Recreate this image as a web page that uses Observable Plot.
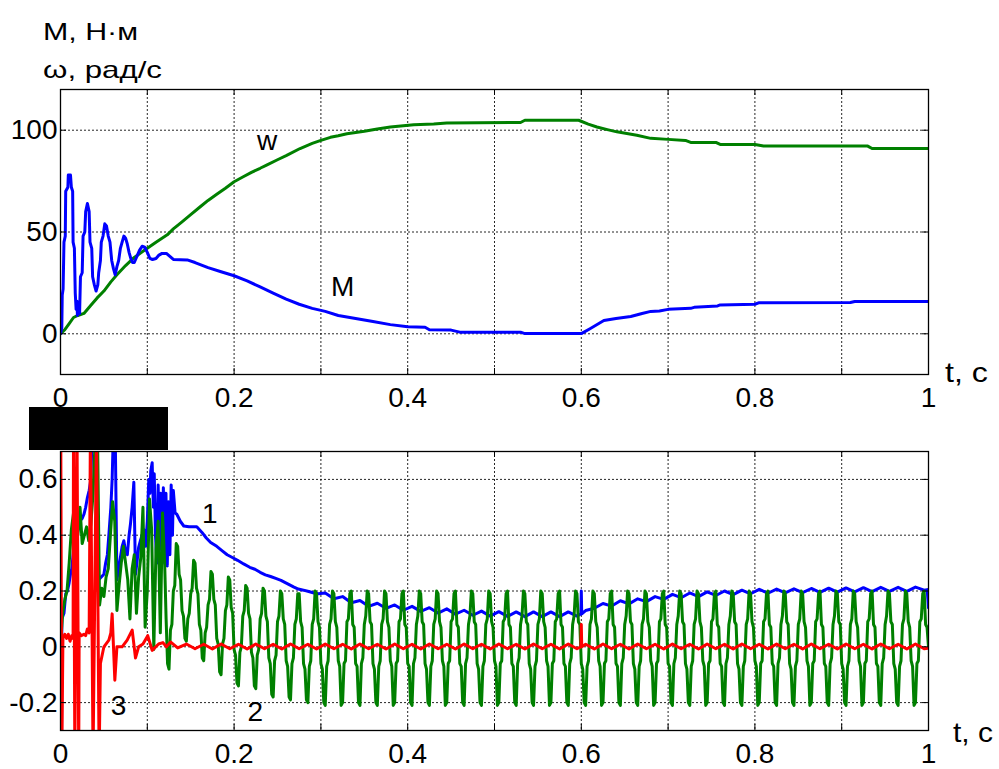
<!DOCTYPE html>
<html>
<head>
<meta charset="utf-8">
<script src="https://cdn.jsdelivr.net/npm/d3@7"></script>
<script src="https://cdn.jsdelivr.net/npm/@observablehq/plot@0.6"></script>
<style>
  body { margin: 0; background: #fff; }
  #wrap { position: relative; width: 999px; height: 769px; overflow: hidden; background: #fff; }
  .panel { position: absolute; left: 0; }
  #overlay { position: absolute; left: 0; top: 0; pointer-events: none; }
</style>
</head>
<body>
<div id="wrap">
  <div id="topPanel" class="panel" style="top:0"></div>
  <div id="botPanel" class="panel" style="top:420px"></div>
  <svg id="overlay" width="999" height="769"></svg>
</div>
<script>
// ---------------- DATA ----------------
// x-axis: grid every 0.1 s, labels every 0.2 s
const xGridTicks = [0, 0.1, 0.2, 0.3, 0.4, 0.5, 0.6, 0.7, 0.8, 0.9, 1];
const xLabelTicks = [0, 0.2, 0.4, 0.6, 0.8, 1];
const topYTicks = [0, 50, 100];
const botYTicks = [-0.2, 0, 0.2, 0.4, 0.6];

// Top panel: torque M (N·m) and speed w (rad/s), [t, value]
const topM = [
  [0,0],[0.0015,3],[0.002,19],[0.003,22],[0.004,45],[0.0055,48],[0.006,70],[0.0085,72],[0.009,78],[0.0115,78],
  [0.0125,72],[0.014,70],[0.0145,45],[0.016,42],[0.017,20],[0.018,12],[0.019,16],[0.0195,9],[0.021,12],[0.022,10],
  [0.023,28],[0.025,30],[0.026,48],[0.028,50],[0.029,60],[0.031,64],[0.033,60],[0.034,45],[0.036,42],[0.037,28],
  [0.039,24],[0.041,21],[0.043,24],[0.044,30],[0.046,36],[0.047,45],[0.049,48],[0.051,54],[0.053,53],[0.055,48],
  [0.057,45],[0.059,36],[0.061,32],[0.063,29],[0.065,33],[0.067,36],[0.069,42],[0.071,45],[0.073,48],[0.075,47],
  [0.077,44],[0.079,40],[0.081,37],[0.083,35],[0.085,35],[0.087,37],[0.089,39],[0.091,41],[0.094,43],[0.097,42.5],
  [0.100,40],[0.103,37],[0.106,36.5],[0.110,37],[0.113,38.5],[0.117,39.5],[0.122,39.5],[0.126,38],[0.130,36.5],[0.146,36.3],
  [0.155,35],[0.170,32.5],[0.185,30.5],[0.200,28.5],[0.215,26],[0.230,23],[0.245,20],[0.260,17],[0.275,14.5],[0.290,12.5],
  [0.305,11],[0.320,9],[0.340,7.5],[0.360,6],[0.380,4.5],[0.400,3.5],[0.420,3.2],[0.425,2],[0.450,1.8],[0.460,0.8],
  [0.530,0.8],[0.535,0.1],[0.600,0.1],[0.610,2.5],[0.626,6.5],[0.640,7.5],[0.657,8.5],[0.670,10],[0.680,11],[0.690,11.2],
  [0.700,12],[0.726,12.5],[0.730,13],[0.757,13.7],[0.760,14.2],[0.800,14.5],[0.805,15.3],[0.910,15.4],[0.915,15.9],[1,15.9]
];
const topW = [
  [0,0],[0.005,2],[0.010,5],[0.015,8],[0.020,9],[0.027,10],[0.035,14],[0.042,17.5],[0.050,21],[0.058,25.5],
  [0.065,29],[0.075,33.5],[0.085,37.5],[0.095,40.5],[0.100,42],[0.110,45],[0.123,48.6],[0.130,51.5],[0.140,55],[0.150,58.5],
  [0.161,62.4],[0.170,65.5],[0.180,68.5],[0.190,71.5],[0.200,74.7],[0.210,77],[0.220,79.3],[0.230,81.3],[0.238,83],[0.250,85.5],
  [0.260,87.5],[0.276,91],[0.290,93.5],[0.300,95],[0.311,96.5],[0.320,97.3],[0.330,98.3],[0.350,99.5],[0.365,100.6],[0.380,101.6],
  [0.395,102.2],[0.407,102.7],[0.430,103],[0.445,103.6],[0.530,103.8],[0.535,104.9],[0.597,104.9],[0.608,103],[0.618,101.6],[0.630,100.3],
  [0.641,99.2],[0.664,97.5],[0.680,96],[0.700,95.5],[0.720,95],[0.726,94],[0.755,94],[0.760,93],[0.800,93],[0.810,92.2],
  [0.930,92.2],[0.935,91],[1,91]
];
const topLabels = [
  { t: 0.238, v: 94.7, s: "w" },
  { t: 0.325, v: 23.2, s: "M" }
];

// Bottom panel, curve 1 (blue), [t, value]
const curve1 = [
  [0,-0.4],[0.0012,-0.4],[0.0015,0.10],[0.004,0.12],[0.006,0.19],[0.008,0.20],[0.010,0.23],[0.0115,0.26],[0.013,0.28],[0.015,0.345],
  [0.018,0.36],[0.020,0.42],[0.022,0.45],[0.025,0.46],[0.027,0.475],[0.029,0.50],[0.031,0.535],[0.033,0.56],[0.035,0.60],[0.0365,0.78],
  [0.040,0.78],[0.042,0.45],[0.044,0.24],[0.047,0.25],[0.050,0.26],[0.052,0.30],[0.054,0.33],[0.0557,0.40],[0.058,0.50],[0.0595,0.60],
  [0.061,0.78],[0.063,0.78],[0.065,0.24],[0.067,0.28],[0.069,0.32],[0.071,0.36],[0.073,0.38],[0.075,0.34],[0.077,0.33],[0.079,0.40],
  [0.0806,0.44],[0.0825,0.50],[0.0845,0.59],[0.0864,0.26],[0.088,0.30],[0.090,0.356],[0.092,0.38],[0.094,0.40],[0.096,0.42],[0.098,0.36],
  [0.100,0.45],[0.1017,0.60],[0.103,0.55],[0.104,0.63],[0.1056,0.66],[0.107,0.50],[0.108,0.62],[0.1094,0.40],[0.111,0.30],[0.1125,0.58],
  [0.114,0.35],[0.1155,0.55],[0.117,0.32],[0.1185,0.57],[0.120,0.30],[0.1215,0.55],[0.123,0.29],[0.1245,0.52],[0.126,0.33],[0.1275,0.58],
  [0.129,0.40],[0.130,0.56],[0.132,0.48],[0.134,0.475],[0.138,0.45],[0.142,0.433],[0.148,0.43],[0.157,0.43],[0.163,0.41],[0.168,0.39],
  [0.173,0.374],[0.180,0.36],[0.186,0.345],[0.192,0.33],[0.198,0.32],[0.204,0.31],[0.211,0.297],[0.218,0.285],[0.224,0.278],[0.230,0.267],
  [0.236,0.258],[0.242,0.252],[0.248,0.245],[0.254,0.238],[0.259,0.23],[0.264,0.222],[0.269,0.214],[0.274,0.207],[0.280,0.203],[0.286,0.198],
  [0.292,0.193],[0.297,0.19],[0.305,0.193],[0.315,0.172],[0.325,0.180],[0.335,0.158],[0.345,0.166],[0.355,0.145],[0.365,0.156],[0.375,0.138],
  [0.385,0.150],[0.395,0.131],[0.405,0.145],[0.415,0.127],[0.425,0.140],[0.435,0.121],[0.445,0.136],[0.455,0.117],[0.465,0.131],[0.475,0.113],
  [0.485,0.128],[0.495,0.110],[0.505,0.126],[0.515,0.109],[0.525,0.125],[0.535,0.108],[0.545,0.125],[0.555,0.108],[0.565,0.125],[0.575,0.108],
  [0.585,0.125],[0.595,0.110],[0.5995,0.118],[0.600,0.200],[0.6005,0.118],[0.605,0.130],[0.615,0.138],[0.625,0.155],[0.635,0.146],[0.645,0.165],
  [0.655,0.154],[0.665,0.172],[0.675,0.162],[0.685,0.180],[0.695,0.170],[0.705,0.188],[0.715,0.176],[0.725,0.193],[0.735,0.180],[0.745,0.197],
  [0.755,0.184],[0.765,0.200],[0.775,0.187],[0.785,0.203],[0.795,0.190],[0.805,0.206],[0.815,0.192],[0.825,0.207],[0.835,0.193],[0.845,0.208],
  [0.855,0.194],[0.865,0.209],[0.875,0.195],[0.885,0.210],[0.895,0.196],[0.905,0.211],[0.915,0.197],[0.925,0.212],[0.935,0.198],[0.945,0.213],
  [0.955,0.199],[0.965,0.213],[0.975,0.199],[0.985,0.214],[0.995,0.203],[0.9985,0.205],[1,0.14]
];

// Bottom panel, curve 2 (green): start-up part as [t, value] ...
const curve2Early = [
  [0,0.00],[0.0025,0.12],[0.005,0.17],[0.0075,0.20],[0.010,0.30],[0.0125,0.42],[0.015,0.48],[0.0175,0.50],
  [0.020,0.40],[0.0225,0.50],[0.025,0.37],[0.0275,0.40],[0.030,0.43],[0.0325,0.38],[0.035,0.44],[0.0375,0.55],
  [0.040,0.75],[0.0425,0.80],[0.045,0.15],[0.0475,0.21],[0.050,0.18],[0.0525,0.25],[0.055,0.28],[0.0575,0.40],
  [0.060,0.52],[0.0625,0.45],[0.065,0.13],[0.0675,0.22],[0.070,0.30],[0.0725,0.36],[0.075,0.30],[0.0775,0.24],
  [0.080,0.10],[0.0825,0.28],[0.085,0.33],[0.0875,0.12],[0.090,0.25],[0.0925,0.32],[0.095,0.50],[0.0975,0.07],
  [0.100,0.20],[0.1025,0.53],[0.105,0.42],[0.1075,-0.01],[0.110,0.35],[0.1125,0.45],[0.115,0.05],[0.1175,0.48]
];
// ... then one sample every 1/600 s from t = 0.12 (twelve per 50 Hz cycle)
const curve2Start = 0.12;
const curve2Step = 1 / 600;
const curve2 = [
  0.30,0.10,-0.06,-0.08,0.06,0.08,0.20,0.22,0.37,0.36,0.26,0.24,
  0.13,0.11,0.03,0.02,0.10,0.12,0.19,0.21,0.31,0.30,0.21,0.19,
  0.08,0.06,-0.04,-0.05,0.05,0.07,0.15,0.17,0.27,0.26,0.17,0.15,
  0.03,0.01,-0.09,-0.10,0.01,0.03,0.13,0.15,0.25,0.24,0.14,0.12,
  -0.01,-0.03,-0.13,-0.14,-0.02,0.00,0.11,0.13,0.22,0.21,0.12,0.10,
  -0.02,-0.04,-0.14,-0.15,-0.03,-0.01,0.10,0.12,0.21,0.20,0.11,0.09,
  -0.04,-0.06,-0.17,-0.18,-0.05,-0.03,0.09,0.11,0.20,0.19,0.10,0.08,
  -0.05,-0.07,-0.18,-0.19,-0.06,-0.04,0.08,0.10,0.19,0.19,0.09,0.07,
  -0.06,-0.08,-0.19,-0.20,-0.07,-0.05,0.08,0.10,0.20,0.19,0.09,0.07,
  -0.06,-0.08,-0.20,-0.21,-0.07,-0.05,0.08,0.10,0.20,0.19,0.09,0.07,
  -0.05,-0.07,-0.21,-0.20,-0.06,-0.05,0.09,0.10,0.19,0.20,0.08,0.07,
  -0.06,-0.07,-0.20,-0.21,-0.06,-0.04,0.08,0.11,0.20,0.19,0.09,0.08,
  -0.06,-0.08,-0.20,-0.21,-0.07,-0.05,0.08,0.10,0.20,0.19,0.09,0.07,
  -0.05,-0.07,-0.21,-0.20,-0.06,-0.05,0.09,0.10,0.19,0.20,0.08,0.07,
  -0.06,-0.07,-0.20,-0.21,-0.06,-0.04,0.08,0.11,0.20,0.19,0.09,0.08,
  -0.06,-0.08,-0.20,-0.21,-0.07,-0.05,0.08,0.10,0.20,0.19,0.09,0.07,
  -0.05,-0.07,-0.21,-0.20,-0.06,-0.05,0.09,0.10,0.19,0.20,0.08,0.07,
  -0.06,-0.07,-0.20,-0.21,-0.06,-0.04,0.08,0.11,0.20,0.19,0.09,0.08,
  -0.06,-0.08,-0.20,-0.21,-0.07,-0.05,0.08,0.10,0.20,0.19,0.09,0.07,
  -0.05,-0.07,-0.21,-0.20,-0.06,-0.05,0.09,0.10,0.19,0.20,0.08,0.07,
  -0.06,-0.07,-0.20,-0.21,-0.06,-0.04,0.08,0.11,0.20,0.19,0.09,0.08,
  -0.06,-0.08,-0.20,-0.21,-0.07,-0.05,0.08,0.10,0.20,0.19,0.09,0.07,
  -0.05,-0.07,-0.21,-0.20,-0.06,-0.05,0.09,0.10,0.19,0.20,0.08,0.07,
  -0.06,-0.07,-0.20,-0.21,-0.06,-0.04,0.08,0.11,0.20,0.19,0.09,0.08,
  -0.06,-0.08,-0.20,-0.21,-0.07,-0.05,0.08,0.10,0.20,0.19,0.09,0.07,
  -0.05,-0.07,-0.21,-0.20,-0.06,-0.05,0.09,0.10,0.19,0.20,0.08,0.07,
  -0.06,-0.07,-0.20,-0.21,-0.06,-0.04,0.08,0.11,0.20,0.19,0.09,0.08,
  -0.06,-0.08,-0.20,-0.21,-0.07,-0.05,0.08,0.10,0.20,0.19,0.09,0.07,
  -0.05,-0.07,-0.21,-0.20,-0.06,-0.05,0.09,0.10,0.19,0.20,0.08,0.07,
  -0.06,-0.07,-0.20,-0.21,-0.06,-0.04,0.08,0.11,0.20,0.19,0.09,0.08,
  -0.06,-0.08,-0.20,-0.21,-0.07,-0.05,0.08,0.10,0.20,0.19,0.09,0.07,
  -0.05,-0.07,-0.21,-0.20,-0.06,-0.05,0.09,0.10,0.19,0.20,0.08,0.07,
  -0.06,-0.07,-0.20,-0.21,-0.06,-0.04,0.08,0.11,0.20,0.19,0.09,0.08,
  -0.06,-0.08,-0.20,-0.21,-0.07,-0.05,0.08,0.10,0.20,0.19,0.09,0.07,
  -0.05,-0.07,-0.21,-0.20,-0.06,-0.05,0.09,0.10,0.19,0.20,0.08,0.07,
  -0.06,-0.07,-0.20,-0.21,-0.06,-0.04,0.08,0.11,0.20,0.19,0.09,0.08,
  -0.06,-0.08,-0.20,-0.21,-0.07,-0.05,0.08,0.10,0.20,0.19,0.09,0.07,
  -0.05,-0.07,-0.21,-0.20,-0.06,-0.05,0.09,0.10,0.19,0.20,0.08,0.07,
  -0.06,-0.07,-0.20,-0.21,-0.06,-0.04,0.08,0.11,0.20,0.19,0.09,0.08,
  -0.06,-0.08,-0.20,-0.21,-0.07,-0.05,0.08,0.10,0.20,0.19,0.09,0.07,
  -0.05,-0.07,-0.21,-0.20,-0.06,-0.05,0.09,0.10,0.19,0.20,0.08,0.07,
  -0.06,-0.07,-0.20,-0.21,-0.06,-0.04,0.08,0.11,0.20,0.19,0.09,0.08,
  -0.06,-0.08,-0.20,-0.21,-0.07,-0.05,0.08,0.10,0.20,0.19,0.09,0.07,
  -0.05,-0.07,-0.21,-0.20,-0.06,-0.05,0.09,0.10,0.19,0.20,0.08,0.07,
  0.00
];

// Bottom panel, curve 3 (red), [t, value]
const curve3 = [
  [0,-0.4],[0.0003,0.8],[0.0015,-0.4],[0.0028,0.03],[0.005,0.045],[0.007,0.03],[0.009,0.045],[0.011,0.02],[0.013,0.04],[0.0145,0.03],
  [0.0150,0.8],[0.0165,-0.4],[0.0190,0.8],[0.0210,-0.4],[0.0215,0.05],[0.024,0.04],[0.027,0.045],[0.029,0.04],[0.031,0.064],[0.033,0.05],
  [0.0345,0.8],[0.0375,-0.4],[0.0415,0.8],[0.0445,-0.4],[0.0460,-0.06],[0.050,0.0],[0.0557,0.024],[0.058,0.05],[0.0595,0.118],[0.0626,-0.12],
  [0.065,0.0],[0.071,0.0],[0.0768,0.024],[0.0826,0.06],[0.0864,-0.04],[0.090,0.0],[0.095,0.01],[0.1005,0.04],[0.1056,-0.013],[0.113,0.01],
  [0.118,0.015],[0.122,0.0],[0.127,0.017],[0.135,-0.004],[0.145,0.010],[0.155,-0.007],[0.165,0.009],[0.175,-0.008],[0.185,0.010],[0.195,-0.007],
  [0.205,0.009],[0.215,-0.008],[0.225,0.010],[0.235,-0.007],[0.245,0.009],[0.255,-0.008],[0.265,0.010],[0.275,-0.007],[0.285,0.009],[0.295,-0.008],
  [0.305,0.010],[0.315,-0.007],[0.325,0.009],[0.335,-0.008],[0.345,0.010],[0.355,-0.007],[0.365,0.009],[0.375,-0.008],[0.385,0.010],[0.395,-0.007],
  [0.405,0.009],[0.415,-0.008],[0.425,0.010],[0.435,-0.007],[0.445,0.009],[0.455,-0.008],[0.465,0.010],[0.475,-0.007],[0.485,0.009],[0.495,-0.008],
  [0.505,0.010],[0.515,-0.007],[0.525,0.009],[0.535,-0.008],[0.545,0.010],[0.555,-0.007],[0.565,0.009],[0.575,-0.008],[0.585,0.010],[0.595,-0.007],
  [0.5995,0.0],[0.600,0.08],[0.6005,0.0],[0.605,0.009],[0.615,-0.008],[0.625,0.010],[0.635,-0.007],[0.645,0.009],[0.655,-0.008],[0.665,0.010],
  [0.675,-0.007],[0.685,0.009],[0.695,-0.008],[0.705,0.010],[0.715,-0.007],[0.725,0.009],[0.735,-0.008],[0.745,0.010],[0.755,-0.007],[0.765,0.009],
  [0.775,-0.008],[0.785,0.010],[0.795,-0.007],[0.805,0.009],[0.815,-0.008],[0.825,0.010],[0.835,-0.007],[0.845,0.009],[0.855,-0.008],[0.865,0.010],
  [0.875,-0.007],[0.885,0.009],[0.895,-0.008],[0.905,0.010],[0.915,-0.007],[0.925,0.009],[0.935,-0.008],[0.945,0.010],[0.955,-0.007],[0.965,0.009],
  [0.975,-0.008],[0.985,0.010],[0.995,-0.007],[1,-0.005]
];
const botLabels = [
  { t: 0.172, v: 0.477, s: "1" },
  { t: 0.2245, v: -0.234, s: "2" },
  { t: 0.0668, v: -0.212, s: "3" }
];

// ---------------- STYLE ----------------
const FONT = '"Liberation Sans", Arial, Helvetica, sans-serif';
const BLUE = "#0000ff", GREEN = "#008000", RED = "#ff0000";
const W = 999, ML = 60, MR = 71;
const plotW = W - ML - MR;
const gridStyle = { stroke: "#000", strokeOpacity: 0.85, strokeWidth: 1, strokeDasharray: "2,2" };
const fmt = d => String(d);

function innerTicks(xTicks, yTicks, plotH) {
  const len = 6;
  return [
    Plot.tickX(xTicks, { x: d => d, insetTop: plotH - len, stroke: "#000" }),
    Plot.tickX(xTicks, { x: d => d, insetBottom: plotH - len, stroke: "#000" }),
    Plot.tickY(yTicks, { y: d => d, insetRight: plotW - len, stroke: "#000" }),
    Plot.tickY(yTicks, { y: d => d, insetLeft: plotW - len, stroke: "#000" })
  ];
}

// full green series: start-up pairs followed by the uniformly sampled part
const greenSeries = curve2Early.concat(curve2.map((v, i) => [curve2Start + i * curve2Step, v]));

// ---------------- TOP PANEL ----------------
const topH = 420, topMT = 89, topMB = 46;
const topPlot = Plot.plot({
  width: W, height: topH,
  marginLeft: ML, marginRight: MR, marginTop: topMT, marginBottom: topMB,
  style: { fontFamily: FONT, fontSize: "28px", color: "#000", background: "#fff", overflow: "visible" },
  x: { domain: [0, 1] },
  y: { domain: [-20, 120] },
  marks: [
    Plot.gridX(xGridTicks, gridStyle),
    Plot.gridY(topYTicks, gridStyle),
    Plot.line(topW, { x: d => d[0], y: d => d[1], stroke: GREEN, strokeWidth: 3, clip: true }),
    Plot.line(topM, { x: d => d[0], y: d => d[1], stroke: BLUE, strokeWidth: 3, clip: true }),
    ...innerTicks(xGridTicks, topYTicks, topH - topMT - topMB),
    Plot.frame({ stroke: "#000", strokeWidth: 1.3 }),
    Plot.axisX(xLabelTicks, { tickSize: 0, tickPadding: 13, tickFormat: fmt, fontSize: 28, label: null }),
    Plot.axisY(topYTicks, { tickSize: 0, tickPadding: 3, tickFormat: fmt, fontSize: 28, label: null }),
    Plot.text(topLabels, { x: "t", y: "v", text: "s", fontSize: 28, fill: "#000" })
  ]
});
document.getElementById("topPanel").appendChild(topPlot);

// ---------------- BOTTOM PANEL ----------------
const botH = 349, botMT = 31, botMB = 39;
const botPlot = Plot.plot({
  width: W, height: botH,
  marginLeft: ML, marginRight: MR, marginTop: botMT, marginBottom: botMB,
  style: { fontFamily: FONT, fontSize: "28px", color: "#000", background: "#fff", overflow: "visible" },
  x: { domain: [0, 1] },
  y: { domain: [-0.3, 0.7] },
  marks: [
    Plot.gridX(xGridTicks, gridStyle),
    Plot.gridY(botYTicks, gridStyle),
    Plot.line(curve1, { x: d => d[0], y: d => d[1], stroke: BLUE, strokeWidth: 3, clip: true }),
    Plot.line(greenSeries, { x: d => d[0], y: d => d[1], stroke: GREEN, strokeWidth: 3, strokeLinejoin: "round", clip: true }),
    Plot.line(curve3, { x: d => d[0], y: d => d[1], stroke: RED, strokeWidth: 3, clip: true }),
    ...innerTicks(xGridTicks, botYTicks, botH - botMT - botMB),
    Plot.frame({ stroke: "#000", strokeWidth: 1.3 }),
    Plot.axisX(xLabelTicks, { tickSize: 0, tickPadding: 13, tickFormat: fmt, fontSize: 28, label: null }),
    Plot.axisY(botYTicks, { tickSize: 0, tickPadding: 3, tickFormat: fmt, fontSize: 28, label: null }),
    Plot.text(botLabels, { x: "t", y: "v", text: "s", fontSize: 28, fill: "#000" })
  ]
});
document.getElementById("botPanel").appendChild(botPlot);

// ---------------- OVERLAY TEXT ----------------
const ov = d3.select("#overlay");
const texts = [
  { x: 43, y: 40, s: "M, Н·м", size: 24, len: 95 },
  { x: 43, y: 78, s: "ω, рад/с", size: 24, len: 119 },
  { x: 945, y: 382, s: "t, c", size: 28, len: 43 },
  { x: 953, y: 742, s: "t, c", size: 28, len: 40 }
];
ov.selectAll("text").data(texts).join("text")
  .attr("x", d => d.x).attr("y", d => d.y)
  .attr("font-family", FONT).attr("font-size", d => d.size)
  .attr("textLength", d => d.len).attr("lengthAdjust", "spacingAndGlyphs")
  .attr("fill", "#000")
  .text(d => d.s);
// redaction box over the lower panel's corner
ov.append("rect").attr("x", 29).attr("y", 407).attr("width", 139).attr("height", 43).attr("fill", "#000");
</script>
</body>
</html>
